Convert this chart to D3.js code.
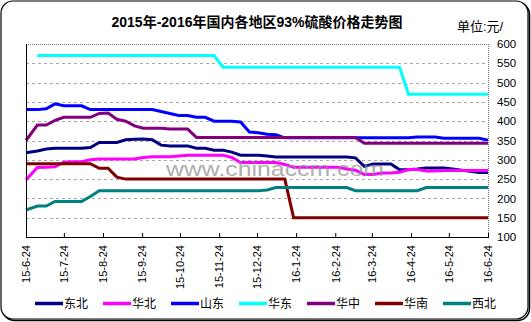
<!DOCTYPE html>
<html><head><meta charset="utf-8">
<script src="https://cdn.jsdelivr.net/npm/d3@7"></script>
<style>
html,body{margin:0;padding:0;background:#fff;}
svg{display:block;}
text{font-family:"Liberation Sans","Noto Sans CJK SC",sans-serif;}
</style></head>
<body>
<svg id="c" width="531" height="322"></svg>
<script>
const dates = ["2015-06-24",
"2015-07-03","2015-07-10","2015-07-17","2015-07-24","2015-07-31",
"2015-08-07","2015-08-14","2015-08-21","2015-08-28",
"2015-09-04","2015-09-11","2015-09-18","2015-09-25",
"2015-10-02","2015-10-09","2015-10-16","2015-10-23","2015-10-30",
"2015-11-06","2015-11-13","2015-11-20","2015-11-27",
"2015-12-04","2015-12-11","2015-12-18","2015-12-25",
"2016-01-01","2016-01-08","2016-01-15","2016-01-22","2016-01-29",
"2016-02-05","2016-02-12","2016-02-19","2016-02-26",
"2016-03-04","2016-03-11","2016-03-18","2016-03-25",
"2016-04-01","2016-04-08","2016-04-15","2016-04-22","2016-04-29",
"2016-05-06","2016-05-13","2016-05-20","2016-05-27",
"2016-06-03","2016-06-10","2016-06-17","2016-06-24"];

const seriesNames = ["东北","华北","山东","华东","华中","华南","西北"];

const dongbei = [318,323,328,330,330,330,330,332,345,345,345,352,353,354,352,338,336,336,336,330,330,325,325,320,312,312,312,310,307,307,307,307,307,307,307,307,307,305,283,289,289,289,274,274,276,279,279,279,276,273,270,267,267];
const huabei = [248,280,281,282,294,295,295,300,302,302,302,302,302,306,308,308,308,310,312,312,312,312,312,306,293,293,293,293,293,288,281,281,281,281,281,281,276,273,262,262,266,266,268,275,275,271,271,272,272,272,272,272,272];
const shandong = [430,430,432,445,440,440,440,430,430,430,430,430,430,430,430,425,420,415,415,410,410,400,400,400,398,372,370,366,365,357,357,357,357,357,357,357,357,357,357,357,357,357,357,357,359,359,359,356,356,356,356,356,351];
const huadong = [null,570,570,570,570,570,570,570,570,570,570,570,570,570,570,570,570,570,570,570,570,570,540,540,540,540,540,540,540,540,540,540,540,540,540,540,540,540,540,540,540,540,540,470,470,470,470,470,470,470,470,470,470];
const huazhong = [350,390,390,402,410,410,410,410,420,421,405,400,388,382,382,382,380,380,380,358,358,358,358,358,358,358,358,358,358,358,358,358,358,358,358,358,358,358,343,343,343,343,343,343,343,343,343,343,343,343,343,343,343];
const huanan = [290,290,290,290,290,290,290,290,278,278,255,250,250,250,250,250,250,250,250,250,250,250,250,250,250,250,250,250,250,250,150,150,150,150,150,150,150,150,150,150,150,150,150,150,150,150,150,150,150,150,150,150,150];
const xibei = [170,180,180,192,192,192,192,205,220,220,220,220,220,220,220,220,220,220,220,220,220,220,220,220,220,220,220,222,228,228,228,228,228,228,228,228,228,220,220,220,220,220,220,220,220,228,228,228,228,228,228,228,228];

const tickDates = ["2015-06-24","2015-07-24","2015-08-24","2015-09-24","2015-10-24","2015-11-24","2015-12-24","2016-01-24","2016-02-24","2016-03-24","2016-04-24","2016-05-24","2016-06-24"];
const tickLabels = ["15-6-24","15-7-24","15-8-24","15-9-24","15-10-24","15-11-24","15-12-24","16-1-24","16-2-24","16-3-24","16-4-24","16-5-24","16-6-24"];
const yTicks = [100,150,200,250,300,350,400,450,500,550,600];

const title = "2015年-2016年国内各地区93%硫酸价格走势图";
const unit = "单位:元/";
const watermark = "www.chinaccm.com";

const colors = ["#000080","#ff00ff","#0000ff","#00ffff","#800080","#800000","#008080"];
const values = [dongbei,huabei,shandong,huadong,huazhong,huanan,xibei];

const parse = d3.timeParse("%Y-%m-%d");
const svg = d3.select("#c");

// frame
svg.append("rect").attr("x",2.5).attr("y",2.5).attr("width",527).attr("height",318).attr("rx",12)
  .attr("fill","none").attr("stroke","#000").attr("stroke-width",1.5);
svg.append("rect").attr("x",1).attr("y",1).attr("width",527).attr("height",318).attr("rx",12)
  .attr("fill","#fff").attr("stroke","#000").attr("stroke-width",1.2);

const L=26, R=488, T=44, B=237;
const x = d3.scaleTime().domain([parse(tickDates[0]), parse(tickDates[tickDates.length-1])]).range([L,R]);
const y = d3.scaleLinear().domain([100,600]).range([B,T]);

// grid
svg.append("g").selectAll("line").data(yTicks.filter(v=>v>100 && v<600)).join("line")
  .attr("x1",L).attr("x2",R).attr("y1",d=>Math.round(y(d))+0.5).attr("y2",d=>Math.round(y(d))+0.5)
  .attr("stroke","#a8a8a8").attr("stroke-dasharray","3,3").attr("stroke-width",1);
// top and right border (dotted)
svg.append("line").attr("x1",L).attr("x2",R).attr("y1",T+0.5).attr("y2",T+0.5)
  .attr("stroke","#777").attr("stroke-dasharray","1,1");
svg.append("line").attr("x1",R+0.5).attr("x2",R+0.5).attr("y1",T).attr("y2",B)
  .attr("stroke","#777").attr("stroke-dasharray","1,1");

// title
svg.append("text").attr("x",257).attr("y",26.5).attr("text-anchor","middle")
  .attr("font-size",14).attr("font-weight","bold").text(title);
svg.append("text").attr("x",457).attr("y",31).attr("font-size",13).text(unit);

// lines
const dts = dates.map(parse);
const line = d3.line().defined(d=>d[1]!=null).x(d=>x(d[0])).y(d=>y(d[1]));
values.forEach((vals,i)=>{
  svg.append("path").datum(dts.map((d,j)=>[d,vals[j]]))
    .attr("d",line).attr("fill","none").attr("stroke",colors[i]).attr("stroke-width",3)
    .attr("stroke-linejoin","miter");
});

// watermark
svg.append("text").attr("x",166).attr("y",176).attr("font-size",20)
  .attr("textLength",218).attr("lengthAdjust","spacingAndGlyphs")
  .attr("fill","#8c8c8c").attr("opacity",0.7).text(watermark);

// axes
svg.append("line").attr("x1",L+0.5).attr("x2",L+0.5).attr("y1",T).attr("y2",B+1).attr("stroke","#000");
svg.append("line").attr("x1",L).attr("x2",R+1).attr("y1",B+0.5).attr("y2",B+0.5).attr("stroke","#000");

const xa = svg.append("g").attr("transform",`translate(0,${B})`)
  .call(d3.axisBottom(x).tickValues(tickDates.map(parse)).tickFormat((d,i)=>tickLabels[i]).tickSize(-4).tickPadding(0));
xa.select(".domain").remove();
xa.selectAll(".tick line").attr("stroke","#000");
xa.selectAll(".tick text").attr("font-size",11).attr("font-family",'"Liberation Sans",sans-serif')
  .attr("fill","#000").attr("text-anchor","end").attr("transform","rotate(-90)")
  .attr("x",-8).attr("y",0).attr("dy","0.35em");

const ya = svg.append("g").attr("transform",`translate(${R},0)`)
  .call(d3.axisRight(y).tickValues(yTicks).tickSize(0).tickPadding(9));
ya.select(".domain").remove();
ya.selectAll(".tick text").attr("font-size",11.5).attr("font-family",'"Liberation Sans",sans-serif').attr("fill","#000");

// legend
const lg = svg.append("g");
seriesNames.forEach((n,i)=>{
  const lx = 35 + i*68;
  lg.append("line").attr("x1",lx).attr("x2",lx+28).attr("y1",303.5).attr("y2",303.5)
    .attr("stroke",colors[i]).attr("stroke-width",3.5);
  lg.append("text").attr("x",lx+29).attr("y",308).attr("font-size",12).text(n);
});
</script>
</body></html>
